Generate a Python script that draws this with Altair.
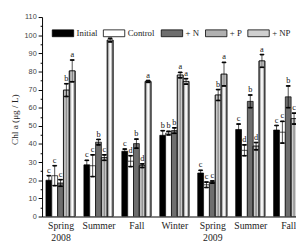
import json
import altair as alt
import pandas as pd

seasons = ["Spring", "Summer", "Fall", "Winter", "Spring", "Summer", "Fall"]
years = ["2008", "", "", "", "2009", "", ""]
treatments = ["Initial", "Control", "+ N", "+ P", "+ NP"]

initial = [20.0, 28.5, 36.0, 44.8, 24.0, 48.0, 47.7]
initial_err = [2.5, 2.5, 1.2, 2.5, 1.5, 3.0, 2.5]
initial_lbl = ["c", "c", "c", "b", "c", "c", "c"]

control = [22.5, 28.0, 30.5, 46.0, 17.5, 36.5, 46.5]
control_err = [5.5, 6.0, 3.0, 1.0, 1.5, 3.0, 6.0]
control_lbl = ["c", "c", "d", "b", "c", "d", "c"]

plus_n = [18.5, 41.0, 40.2, 47.4, 19.0, 63.5, 66.0]
plus_n_err = [1.8, 1.5, 2.5, 1.5, 0.6, 3.5, 6.0]
plus_n_lbl = ["c", "b", "b", "b", "c", "b", "b"]

plus_p = [69.7, 32.5, 28.0, 78.0, 67.0, 38.8, 54.0]
plus_p_err = [3.5, 1.5, 1.0, 1.5, 3.0, 2.0, 3.0]
plus_p_lbl = ["b", "c", "d", "a", "b", "d", "c"]

plus_np = [80.3, 97.3, 74.5, 74.5, 78.5, 85.8, None]
plus_np_err = [6.0, 1.0, 0.5, 1.5, 6.5, 3.5, None]
plus_np_lbl = ["a", "a", "a", "a", "a", "a", None]

series = [
    (initial, initial_err, initial_lbl),
    (control, control_err, control_lbl),
    (plus_n, plus_n_err, plus_n_lbl),
    (plus_p, plus_p_err, plus_p_lbl),
    (plus_np, plus_np_err, plus_np_lbl),
]

rows = []
for g in range(len(seasons)):
    for t, (vals, errs, lbls) in enumerate(series):
        if vals[g] is None:
            continue
        rows.append(dict(g=g, t=t, treat=treatments[t], value=vals[g],
                         err=errs[g], lbl=lbls[g]))
df = pd.DataFrame(rows)

fills = ["#000000", "#ffffff", "#6e6e6e", "#b0b0b0", "#cfcfcf"]

label_lines = [[s] + ([y] if y else []) for s, y in zip(seasons, years)]
label_expr = json.dumps(label_lines) + "[datum.value]"

x0 = -0.5 + 0.5 / 39
xscale = alt.Scale(domain=[x0, x0 + 261 / 39], nice=False, zero=False)
yscale = alt.Scale(domain=[0, 110], nice=False)

xaxis = alt.Axis(values=list(range(7)), labelExpr=label_expr, ticks=False,
                 grid=False, title=None, domainColor="black",
                 labelFont="Liberation Serif", labelFontSize=10,
                 labelColor="#222", labelPadding=4, labelLineHeight=13,
                 labelBaseline="top")
yaxis = alt.Axis(values=list(range(0, 111, 5)),
                 labelExpr="datum.value % 10 === 0 ? datum.label : ''",
                 tickSize={"condition": {"test": "datum.value % 10 === 0", "value": 4}, "value": 2},
                 grid=False, title="Chl a (μg / L)", domainColor="black",
                 tickColor="black", labelFont="Liberation Sans",
                 labelFontSize=7.5, labelColor="#444", labelPadding=2,
                 titleFont="Liberation Serif", titleFontSize=9.5,
                 titleFontWeight="normal", titleColor="#222",
                 titleX=-28, titleY=105, titleAngle=-90, titleBaseline="middle",
                 titleAlign="center")

step = 6 / 39
half = 3 / 39
base = alt.Chart(df).transform_calculate(
    xc=f"datum.g + (datum.t - 2) * {step}",
    xl=f"datum.g + (datum.t - 2) * {step} - {half}",
    xr=f"datum.g + (datum.t - 2) * {step} + {half}",
    lo="datum.value - datum.err",
    hi="datum.value + datum.err",
    zero="0",
)

X = lambda f: alt.X(f, type="quantitative", scale=xscale, axis=xaxis)
Y = lambda f: alt.Y(f, type="quantitative", scale=yscale, axis=yaxis)

bars = base.mark_bar(stroke="black", strokeWidth=0.7, clip=True).encode(
    x=X("xl"), x2="xr:Q", y=Y("value"), y2="zero:Q",
    fill=alt.Fill("treat:N", scale=alt.Scale(domain=treatments, range=fills),
                  legend=alt.Legend(
                      orient="none", legendX=10, legendY=5, direction="horizontal",
                      title=None, symbolType="M-1,-0.32L1,-0.32L1,0.32L-1,0.32Z",
                      symbolSize=484, symbolStrokeColor="black",
                      symbolStrokeWidth=0.8, symbolOpacity=1,
                      labelFont="Liberation Serif", labelFontSize=9,
                      labelColor="#222", labelOffset=2.5, columnPadding=3.5,
                      padding=0)),
)

grad_p = alt.Gradient(gradient="linear", x1=0, x2=1, y1=0, y2=0, stops=[
    alt.GradientStop(color="#777777", offset=0),
    alt.GradientStop(color="#d4d4d4", offset=0.25),
    alt.GradientStop(color="#888888", offset=0.5),
    alt.GradientStop(color="#d4d4d4", offset=0.75),
    alt.GradientStop(color="#777777", offset=1),
])
grad_np = alt.Gradient(gradient="linear", x1=0, x2=1, y1=0, y2=0, stops=[
    alt.GradientStop(color="#5a5a5a", offset=0),
    alt.GradientStop(color="#a8a8a8", offset=0.2),
    alt.GradientStop(color="#ffffff", offset=0.45),
    alt.GradientStop(color="#ffffff", offset=0.55),
    alt.GradientStop(color="#a8a8a8", offset=0.8),
    alt.GradientStop(color="#5a5a5a", offset=1),
])

p_over = base.transform_filter("datum.t == 3").mark_bar(
    fill=grad_p, stroke="black", strokeWidth=0.7, clip=True).encode(
    x=X("xl"), x2="xr:Q", y=Y("value"), y2="zero:Q")
np_over = base.transform_filter("datum.t == 4").mark_bar(
    fill=grad_np, stroke="black", strokeWidth=0.7, clip=True).encode(
    x=X("xl"), x2="xr:Q", y=Y("value"), y2="zero:Q")

errs = base.mark_rule(strokeWidth=0.7, clip=True).encode(
    x=X("xc"), y=Y("lo"), y2="hi:Q", stroke=alt.value("black"))
cap_hi = base.mark_tick(orient="horizontal", size=4, thickness=0.7,
                        opacity=1, clip=True).encode(
    x=X("xc"), y=Y("hi"), fill=alt.value("black"), stroke=alt.value("black"))
cap_lo = base.mark_tick(orient="horizontal", size=4, thickness=0.7,
                        opacity=1, clip=True).encode(
    x=X("xc"), y=Y("lo"), fill=alt.value("black"), stroke=alt.value("black"))
letters = base.mark_text(font="Liberation Serif", fontSize=8.5, baseline="bottom",
                         dy=-1).encode(
    x=X("xc"), y=Y("hi"), text="lbl:N", fill=alt.value("#111"))

chart = alt.layer(bars, p_over, np_over, errs, cap_hi, cap_lo, letters).properties(
    width=261, height=205,
    padding={"left": 35, "top": 6, "right": 0, "bottom": 27},
    autosize=alt.AutoSizeParams(type="none"),
    background="white",
).configure_view(stroke=None)

chart.save("out.html", embed_options={"renderer": "svg", "actions": False})
